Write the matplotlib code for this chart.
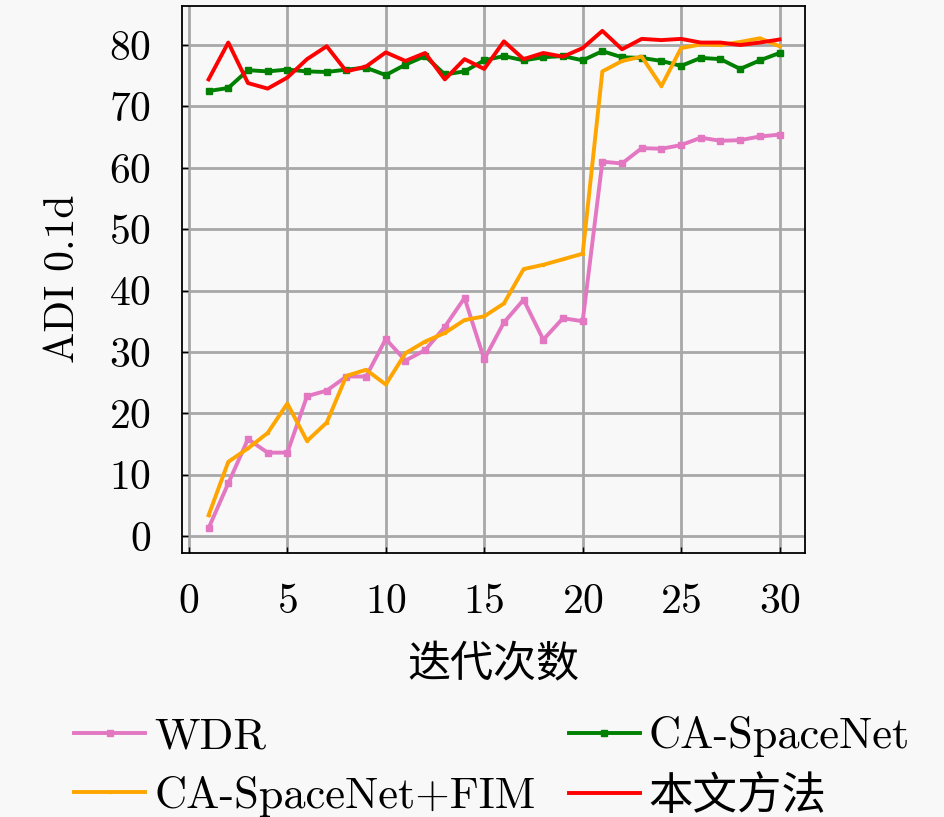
import matplotlib
matplotlib.use("Agg")
import matplotlib.pyplot as plt

plt.rcParams['font.family'] = ['cmr10', 'Noto Sans CJK SC', 'DejaVu Sans']
plt.rcParams['axes.formatter.use_mathtext'] = True
plt.rcParams['font.size'] = 30

iterations = list(range(1, 31))
wdr = [1.3, 8.6, 15.8, 13.6, 13.6, 22.8, 23.7, 26.0, 26.0, 32.1,
       28.6, 30.3, 34.1, 38.8, 28.8, 34.8, 38.5, 32.0, 35.5, 35.0,
       61.0, 60.7, 63.2, 63.1, 63.7, 64.9, 64.4, 64.5, 65.1, 65.4]
ca_fim = [3.4, 12.1, 14.3, 16.8, 21.6, 15.5, 18.5, 26.1, 27.1, 24.7,
          29.8, 31.7, 33.1, 35.2, 35.8, 37.9, 43.5, 44.2, 45.1, 46.0,
          75.7, 77.4, 78.1, 73.3, 79.5, 80.1, 80.0, 80.5, 81.1, 79.8]
ca_spacenet = [72.5, 73.0, 75.9, 75.7, 76.0, 75.7, 75.6, 76.0, 76.3, 75.1,
               76.8, 78.2, 75.2, 75.7, 77.5, 78.2, 77.5, 78.0, 78.2, 77.5,
               79.0, 78.0, 77.9, 77.4, 76.6, 77.9, 77.7, 76.1, 77.5, 78.7]
ours = [74.4, 80.4, 73.8, 72.9, 74.7, 77.7, 79.8, 75.7, 76.5, 78.8,
        77.4, 78.7, 74.4, 77.7, 76.1, 80.6, 77.7, 78.7, 78.1, 79.5,
        82.3, 79.3, 81.0, 80.8, 81.0, 80.4, 80.4, 80.0, 80.4, 80.9]

labels = ['WDR', 'CA-SpaceNet', 'CA-SpaceNet+FIM', '本文方法']
xticks = [0, 5, 10, 15, 20, 25, 30]
yticks = [0, 10, 20, 30, 40, 50, 60, 70, 80]

bg = '#f8f8f8'
fig = plt.figure(figsize=(9.45, 8.17), dpi=100, facecolor=bg)
ax = fig.add_axes([0.1926, 0.3235, 0.852 - 0.1926, 0.993 - 0.3235])
ax.set_facecolor(bg)

h_wdr, = ax.plot(iterations, wdr, color='#e377c2', lw=2.8, marker='s', ms=4.5, label=labels[0])
h_ca, = ax.plot(iterations, ca_spacenet, color='#008000', lw=2.8, marker='s', ms=5, label=labels[1])
h_fim, = ax.plot(iterations, ca_fim, color='#ffa500', lw=2.8, marker='o', ms=1.5, label=labels[2])
h_ours, = ax.plot(iterations, ours, color='#ff0000', lw=2.8, label=labels[3])

ax.set_xlim(-0.35, 31.3)
ax.set_ylim(-2.7, 86.4)
ax.set_xticks(xticks)
ax.set_yticks(yticks)
ax.grid(True, color='#a8a8a8', lw=2.0)
ax.set_axisbelow(True)
ax.tick_params(direction='in', length=4, width=1, pad=22, labelsize=30)
for s in ax.spines.values():
    s.set_color('black')
    s.set_linewidth(1.3)

ax.set_xlabel('迭代次数', fontsize=31, labelpad=18)
ax.set_ylabel('ADI 0.1d', fontsize=30, labelpad=20)

fig.legend([h_wdr, h_fim, h_ca, h_ours],
           [labels[0], labels[2], labels[1], labels[3]],
           ncol=2, loc='center', bbox_to_anchor=(492 / 945, 1 - 767 / 817),
           frameon=False, fontsize=32, handlelength=1.6, handletextpad=0.2,
           columnspacing=0.75, labelspacing=0.42)

fig.savefig('out.png', dpi=100, facecolor=bg)
